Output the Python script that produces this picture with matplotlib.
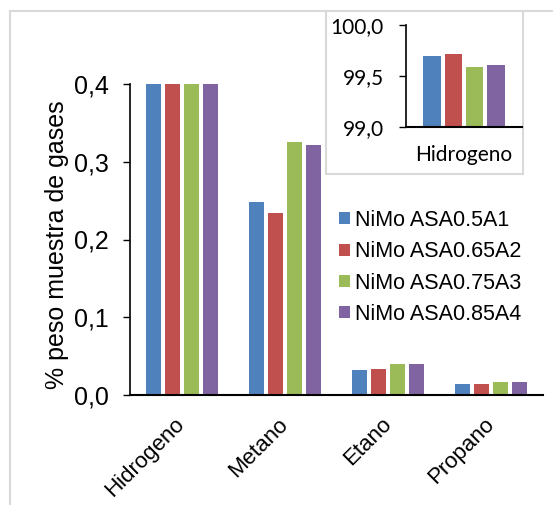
import matplotlib
matplotlib.use("Agg")
import matplotlib.pyplot as plt
from matplotlib.patches import Rectangle
import numpy as np

# Gas composition by catalyst (% weight of gas sample)
categories = ["Hidrogeno", "Metano", "Etano", "Propano"]
series_names = ["NiMo ASA0.5A1", "NiMo ASA0.65A2", "NiMo ASA0.75A3", "NiMo ASA0.85A4"]
hidrogeno = [99.70, 99.72, 99.59, 99.61]
metano = [0.248, 0.234, 0.325, 0.322]
etano = [0.032, 0.0335, 0.040, 0.040]
propano = [0.014, 0.014, 0.017, 0.017]
main_ticks = [0.0, 0.1, 0.2, 0.3, 0.4]
main_tick_labels = ["0,0", "0,1", "0,2", "0,3", "0,4"]
inset_ticks = [99.0, 99.5, 100.0]
inset_tick_labels = ["99,0", "99,5", "100,0"]

colors = ["#4F81BD", "#C0504D", "#9BBB59", "#8064A2"]
values = np.array([hidrogeno, metano, etano, propano])  # rows: gases, cols: series

W, H = 553, 505
fig = plt.figure(figsize=(W / 100, H / 100), dpi=100)

def px_box(x0, y0, x1, y1):
    """Figure-fraction rect from pixel corners (top-left origin)."""
    return [x0 / W, 1 - y1 / H, (x1 - x0) / W, (y1 - y0) / H]

# outer chart-area frame
fig.patches.append(Rectangle((9.5 / W, -0.1), 1.2, 1 - 10.5 / H + 0.1,
                             transform=fig.transFigure, fill=False,
                             edgecolor="#D9D9D9", linewidth=1.5))

ax = fig.add_axes(px_box(130, 84, 543, 395))
x = np.arange(len(categories))
slot, bw = 0.184, 0.145
for i, name in enumerate(series_names):
    ax.bar(x + (i - 1.5) * slot, values[:, i], width=bw, color=colors[i], label=name)

ax.set_xlim(-0.5, len(categories) - 0.5)
ax.set_ylim(0, 0.4)
ax.set_yticks(main_ticks)
ax.set_yticklabels(main_tick_labels, fontfamily="Liberation Sans", fontsize=18)
ax.set_xticks(x)
ax.set_xticklabels(categories, fontfamily="Liberation Sans", fontsize=16,
                   rotation=45, ha="right", va="center", rotation_mode="anchor")
ax.tick_params(axis="x", length=0, pad=19)
ax.tick_params(axis="y", length=5, width=1, pad=10)
for s in ["top", "right"]:
    ax.spines[s].set_visible(False)
ax.spines["left"].set_linewidth(1.2)
ax.spines["bottom"].set_linewidth(1.5)
ax.set_ylabel("% peso muestra de gases", fontfamily="Liberation Sans", fontsize=18)
ax.yaxis.set_label_coords(-0.147, 0.484)

leg = ax.legend(loc="upper left", bbox_to_anchor=(339 / W, 1 - 210 / H),
                bbox_transform=fig.transFigure, frameon=False,
                prop={"family": "Liberation Sans", "size": 15.5},
                handlelength=0.5, handleheight=0.5, handletextpad=0.25,
                labelspacing=0.48, borderpad=0, borderaxespad=0)

# inset panel with the full hydrogen scale
fig.patches.append(Rectangle((326 / W, 1 - 174 / H), (523 - 326) / W, (174 - 11) / H,
                             transform=fig.transFigure, facecolor="white",
                             edgecolor="#D9D9D9", linewidth=1.5, zorder=5))
ins = fig.add_axes(px_box(406, 25, 522, 127), zorder=6)
ins.patch.set_alpha(0)
for i in range(len(series_names)):
    ins.bar([(i - 1.5) * 0.184], [hidrogeno[i]], width=0.147, color=colors[i])
ins.set_xlim(-0.5, 0.5)
ins.set_ylim(99.0, 100.0)
ins.set_yticks(inset_ticks)
ins.set_yticklabels(inset_tick_labels, fontfamily="Lato", fontsize=15)
ins.set_xticks([0])
ins.set_xticklabels(["Hidrogeno"], fontfamily="Lato", fontsize=15)
ins.tick_params(axis="x", length=0, pad=13)
ins.tick_params(axis="y", length=5, width=1, pad=11)
for s in ["top", "right"]:
    ins.spines[s].set_visible(False)
ins.spines["left"].set_linewidth(1.2)
ins.spines["bottom"].set_linewidth(1.5)

fig.savefig("out.png", dpi=100)
